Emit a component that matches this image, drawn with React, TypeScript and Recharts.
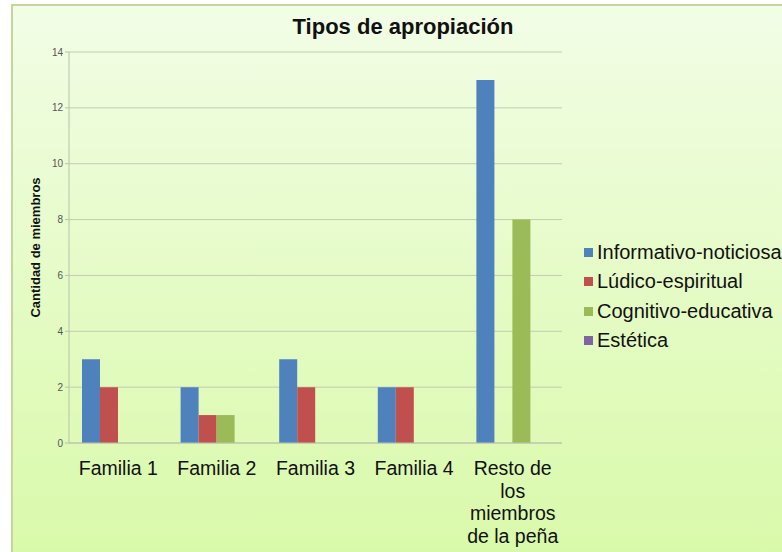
import React from "react"
import { BarChart, Bar, XAxis, YAxis, CartesianGrid, Label } from "recharts"

const categories = ["Familia 1", "Familia 2", "Familia 3", "Familia 4", "Resto de\nlos\nmiembros\nde la peña"]
const informativo = [3, 2, 3, 2, 13]
const ludico = [2, 1, 2, 2, 0]
const cognitivo = [0, 1, 0, 0, 8]
const estetica = [0, 0, 0, 0, 0]
const yTicks = [0, 2, 4, 6, 8, 10, 12, 14]

const series = [
  { key: "informativo", name: "Informativo-noticiosa", color: "#4f81bd", values: informativo },
  { key: "ludico", name: "Lúdico-espiritual", color: "#c0504d", values: ludico },
  { key: "cognitivo", name: "Cognitivo-educativa", color: "#9bbb59", values: cognitivo },
  { key: "estetica", name: "Estética", color: "#8064a2", values: estetica },
]

const data = categories.map((c, i) => {
  const row: any = { name: c }
  series.forEach(s => { row[s.key] = s.values[i] })
  return row
})

const FONT = '"Liberation Sans", Arial, sans-serif'

function CategoryTick(props: any) {
  const { x, y, payload } = props
  const lines = String(payload.value).split("\n")
  return (
    <text x={x} y={y + 24} textAnchor="middle" fontSize={19.5} fill="#111" fontFamily={FONT}>
      {lines.map((l, i) => (
        <tspan key={i} x={x} dy={i === 0 ? 0 : 22.7}>{l}</tspan>
      ))}
    </text>
  )
}

export default function App() {
  return (
    <div style={{ position: "absolute", left: 0, top: 0, width: 782, height: 552, overflow: "hidden", background: "#fff", fontFamily: FONT }}>
      <div style={{
        position: "absolute", left: 11, top: 4, width: 820, height: 600,
        border: "2px solid #c3d69b", boxSizing: "border-box",
        background: "linear-gradient(to bottom, #f2fde6 0%, #e4fbc4 50%, #d7f9a5 100%)"
      }} />
      <div style={{ position: "absolute", left: 12, width: 782, top: 14, textAlign: "center", fontSize: 22, fontWeight: "bold", color: "#111" }}>
        Tipos de apropiación
      </div>
      <div style={{ position: "absolute", left: 0, top: 0 }}>
        <BarChart
          width={782}
          height={552}
          data={data}
          margin={{ top: 52, right: 220, left: 39, bottom: 0 }}
          barGap={0}
          barSize={18}
        >
          <CartesianGrid vertical={false} stroke="#c2ccb2" strokeWidth={1} />
          <XAxis
            dataKey="name"
            interval={0}
            tickLine={false}
            axisLine={{ stroke: "#b9c2aa" }}
            height={109}
            tick={<CategoryTick />}
          />
          <YAxis
            width={30}
            domain={[0, 14]}
            ticks={yTicks}
            tickSize={4}
            tickLine={{ stroke: "#b9c2aa" }}
            axisLine={{ stroke: "#b9c2aa" }}
            tick={{ fontSize: 10, fill: "#555", fontFamily: FONT }}
          >
            <Label
              value="Cantidad de miembros"
              angle={-90}
              position="left"
              offset={4}
              style={{ fontSize: 13, fontWeight: "bold", fill: "#111", fontFamily: FONT, textAnchor: "middle" }}
            />
          </YAxis>
          {series.map(s => (
            <Bar key={s.key} dataKey={s.key} name={s.name} fill={s.color} isAnimationActive={false} />
          ))}
        </BarChart>
      </div>
      <div style={{ position: "absolute", left: 584, top: 238 }}>
        {series.map(s => (
          <div key={s.key} style={{ display: "flex", alignItems: "center", height: 29.3, fontSize: 20, color: "#111", whiteSpace: "nowrap" }}>
            <span style={{ display: "inline-block", width: 9, height: 9, background: s.color, marginRight: 4 }} />
            {s.name}
          </div>
        ))}
      </div>
    </div>
  )
}
